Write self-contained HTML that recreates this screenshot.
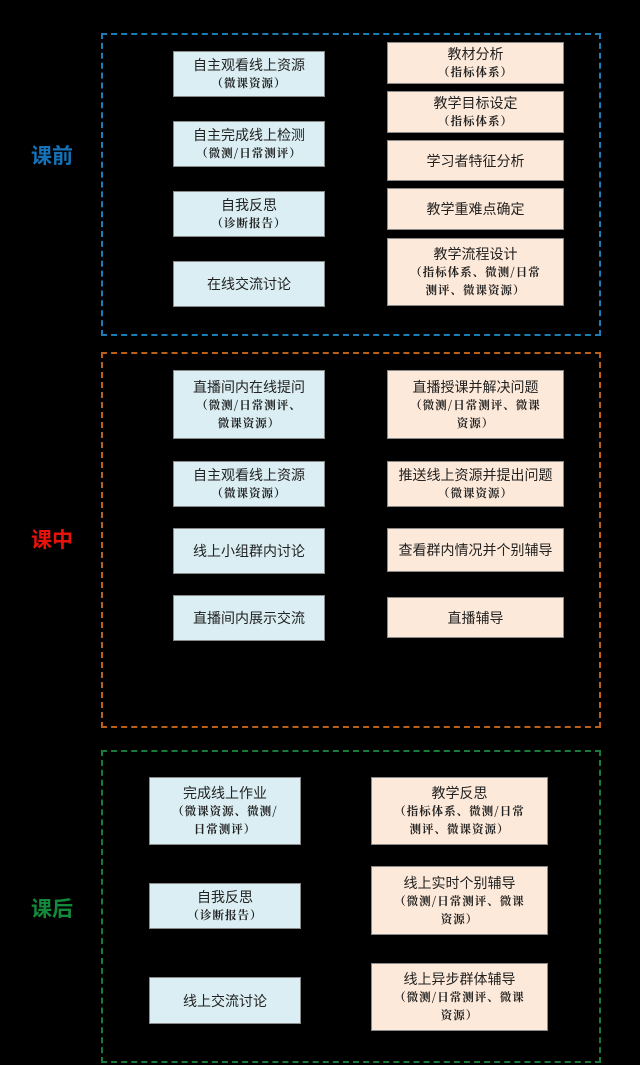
<!DOCTYPE html>
<html><head><meta charset="utf-8"><style>
body{margin:0;background:#000;width:640px;height:1065px;position:relative;overflow:hidden;font-family:"Liberation Sans","Noto Sans CJK SC",sans-serif}
.d{position:absolute;box-sizing:border-box;border:2px dashed}
.b{position:absolute;box-sizing:border-box;border:1.5px solid #8a8a8a;display:flex;flex-direction:column;justify-content:center;align-items:center;text-align:center;color:#222;font-size:14px;line-height:18px}
.l{background:#daeef3}.r{background:#fde9d9}
.b i{font-style:normal;font-weight:bold;font-size:11.5px;line-height:18px;letter-spacing:1px;font-family:"Noto Serif CJK SC","Liberation Serif",serif}
.t{position:absolute;font-size:21px;font-weight:bold;width:80px;text-align:center;left:12px}
</style></head><body>
<div class="d" style="left:101px;top:33px;width:500px;height:303px;border-color:#1b7db3"></div>
<div class="d" style="left:101px;top:352px;width:500px;height:376px;border-color:#b8601c"></div>
<div class="d" style="left:101px;top:750px;width:500px;height:313px;border-color:#1a7a3c"></div>
<div class="t" style="top:140px;color:#1572b8">课前</div>
<div class="t" style="top:524px;color:#e8120c">课中</div>
<div class="t" style="top:893px;color:#138a3a">课后</div>

<div class="b l" style="left:173px;top:51px;width:152px;height:46px">自主观看线上资源<i>（微课资源）</i></div>
<div class="b l" style="left:173px;top:121px;width:152px;height:46px">自主完成线上检测<i>（微测/日常测评）</i></div>
<div class="b l" style="left:173px;top:191px;width:152px;height:46px">自我反思<i>（诊断报告）</i></div>
<div class="b l" style="left:173px;top:261px;width:152px;height:46px">在线交流讨论</div>
<div class="b r" style="left:387px;top:42px;width:177px;height:42px">教材分析<i>（指标体系）</i></div>
<div class="b r" style="left:387px;top:91px;width:177px;height:42px">教学目标设定<i>（指标体系）</i></div>
<div class="b r" style="left:387px;top:140px;width:177px;height:41px">学习者特征分析</div>
<div class="b r" style="left:387px;top:188px;width:177px;height:42px">教学重难点确定</div>
<div class="b r" style="left:387px;top:238px;width:177px;height:68px">教学流程设计<i>（指标体系、微测/日常<br>测评、微课资源）</i></div>

<div class="b l" style="left:173px;top:370px;width:152px;height:69px">直播间内在线提问<i>（微测/日常测评、<br>微课资源）</i></div>
<div class="b l" style="left:173px;top:461px;width:152px;height:46px">自主观看线上资源<i>（微课资源）</i></div>
<div class="b l" style="left:173px;top:528px;width:152px;height:46px">线上小组群内讨论</div>
<div class="b l" style="left:173px;top:595px;width:152px;height:46px">直播间内展示交流</div>
<div class="b r" style="left:387px;top:370px;width:177px;height:69px">直播授课并解决问题<i>（微测/日常测评、微课<br>资源）</i></div>
<div class="b r" style="left:387px;top:461px;width:177px;height:46px">推送线上资源并提出问题<i>（微课资源）</i></div>
<div class="b r" style="left:387px;top:528px;width:177px;height:44px">查看群内情况并个别辅导</div>
<div class="b r" style="left:387px;top:597px;width:177px;height:41px">直播辅导</div>

<div class="b l" style="left:149px;top:777px;width:152px;height:68px">完成线上作业<i>（微课资源、微测/<br>日常测评）</i></div>
<div class="b l" style="left:149px;top:883px;width:152px;height:46px">自我反思<i>（诊断报告）</i></div>
<div class="b l" style="left:149px;top:977px;width:152px;height:47px">线上交流讨论</div>
<div class="b r" style="left:371px;top:777px;width:177px;height:68px">教学反思<i>（指标体系、微测/日常<br>测评、微课资源）</i></div>
<div class="b r" style="left:371px;top:866px;width:177px;height:69px">线上实时个别辅导<i>（微测/日常测评、微课<br>资源）</i></div>
<div class="b r" style="left:371px;top:963px;width:177px;height:68px">线上异步群体辅导<i>（微测/日常测评、微课<br>资源）</i></div>
</body></html>
